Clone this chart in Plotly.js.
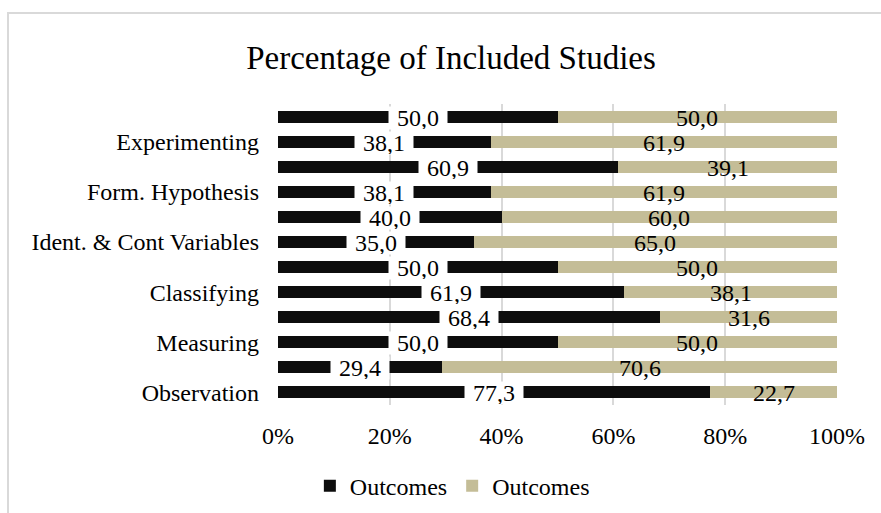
<!DOCTYPE html>
<html>
<head>
<meta charset="utf-8">
<script src="https://cdn.plot.ly/plotly-3.0.1.min.js"></script>
<style>
  html, body { margin: 0; padding: 0; background: #ffffff; overflow: hidden; }
  #frame { position: absolute; left: 7px; top: 12px; width: 900px; height: 520px; border: 2px solid #d9d9d9; box-sizing: border-box; }
  #chart { position: absolute; left: 0; top: 0; width: 881px; height: 513px; }
</style>
</head>
<body>
<div id="frame"></div>
<div id="chart"></div>
<script>
// Categories from bottom to top (12 bars); only every other bar carries a tick label
const categoryLabels = ["Observation", "", "Measuring", "", "Classifying", "", "Ident. & Cont Variables", "", "Form. Hypothesis", "", "Experimenting", ""];
const seriesNames = ["Outcomes", "Outcomes"];
const blackValues = [77.3, 29.4, 50.0, 68.4, 61.9, 50.0, 35.0, 40.0, 38.1, 60.9, 38.1, 50.0];
const beigeValues = [22.7, 70.6, 50.0, 31.6, 38.1, 50.0, 65.0, 60.0, 61.9, 39.1, 61.9, 50.0];
const xTickVals = [0, 20, 40, 60, 80, 100];
const xTickText = ["0%", "20%", "40%", "60%", "80%", "100%"];

const FONT = "Liberation Serif, Times New Roman, serif";
const BLACK = "#0d0d0d";
const BEIGE = "#c4bd97";

const yIdx = categoryLabels.map((_, i) => i);
const fmt = v => v.toFixed(1).replace(".", ",");

const traces = [
  {
    type: "bar", orientation: "h", name: seriesNames[0],
    y: yIdx, x: blackValues, width: 0.48,
    marker: { color: BLACK, line: { width: 0 } },
    hoverinfo: "x+name"
  },
  {
    type: "bar", orientation: "h", name: seriesNames[1],
    y: yIdx, x: beigeValues, width: 0.48,
    marker: { color: BEIGE, line: { width: 0 } },
    hoverinfo: "x+name"
  }
];

const annotations = [];
yIdx.forEach(i => {
  annotations.push({
    x: blackValues[i] / 2, y: i, xref: "x", yref: "y",
    text: fmt(blackValues[i]), showarrow: false,
    font: { family: FONT, size: 24, color: "#000000" },
    bgcolor: "#ffffff", width: 58, height: 22, borderpad: 0,
    xanchor: "center", yanchor: "middle", yshift: -1
  });
  annotations.push({
    x: blackValues[i] + beigeValues[i] / 2, y: i, xref: "x", yref: "y",
    text: fmt(beigeValues[i]), showarrow: false,
    font: { family: FONT, size: 24, color: "#000000" },
    xanchor: "center", yanchor: "middle", yshift: -1
  });
});

const layout = {
  width: 881, height: 513,
  paper_bgcolor: "rgba(0,0,0,0)",
  plot_bgcolor: "rgba(0,0,0,0)",
  margin: { l: 278, r: 44, t: 104, b: 108, autoexpand: false },
  barmode: "stack",
  font: { family: FONT, size: 24, color: "#000000" },
  title: {
    text: "Percentage of Included Studies",
    font: { family: FONT, size: 33, color: "#000000" },
    x: 451 / 881, xanchor: "center", xref: "container",
    y: 1 - 57 / 513, yanchor: "middle", yref: "container"
  },
  xaxis: {
    range: [0, 100],
    tickvals: xTickVals, ticktext: xTickText,
    showgrid: true, gridcolor: "#d9d9d9", gridwidth: 2,
    zeroline: false, showline: false, ticks: "",
    ticklabelstandoff: 14,
    tickfont: { family: FONT, size: 24, color: "#000000" },
    fixedrange: true, automargin: false
  },
  yaxis: {
    range: [-0.5, 11.5],
    tickvals: yIdx, ticktext: categoryLabels,
    showgrid: false, zeroline: false, showline: false, ticks: "",
    ticklabelstandoff: 18,
    tickfont: { family: FONT, size: 24, color: "#000000" },
    fixedrange: true, automargin: false
  },
  showlegend: true,
  legend: {
    orientation: "h",
    x: 0.057, xanchor: "left",
    y: -0.27, yanchor: "middle",
    font: { family: FONT, size: 24, color: "#000000" },
    bgcolor: "rgba(0,0,0,0)",
    traceorder: "normal",
    itemwidth: 30
  },
  annotations: annotations,
  bargap: 0.52
};

Plotly.newPlot("chart", traces, layout, { displayModeBar: false, staticPlot: true });
</script>
</body>
</html>
